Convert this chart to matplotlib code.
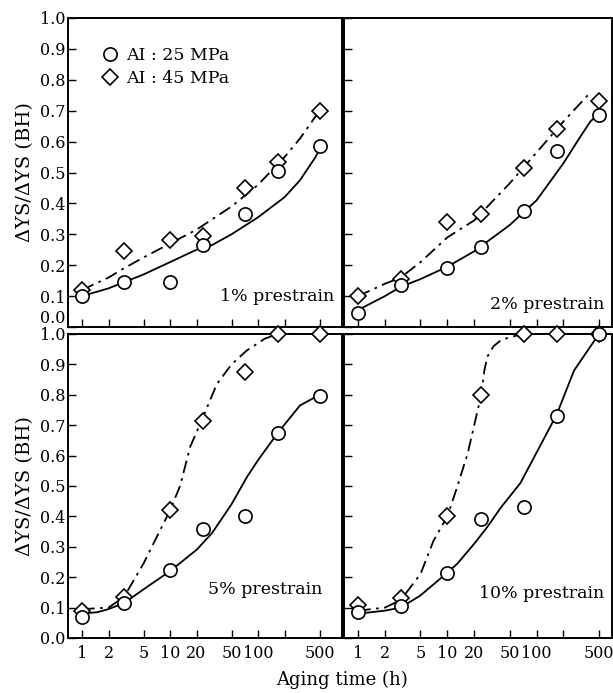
import matplotlib
matplotlib.use("Agg")
import matplotlib.pyplot as plt
from matplotlib.lines import Line2D
from matplotlib.ticker import NullLocator, FixedLocator, FixedFormatter

plt.rcParams['font.family'] = ['DejaVu Serif']
plt.rcParams['mathtext.fontset'] = 'dejavuserif'

# ---------------- data ----------------
aging_time = [1, 3, 10, 24, 72, 168, 500]

ai25_1 = [0.10, 0.145, 0.145, 0.265, 0.365, 0.505, 0.585]
ai45_1 = [0.12, 0.245, 0.28, 0.295, 0.45, 0.535, 0.70]
ai25_2 = [0.045, 0.135, 0.19, 0.26, 0.375, 0.57, 0.685]
ai45_2 = [0.10, 0.155, 0.34, 0.365, 0.515, 0.64, 0.73]
ai25_5 = [0.07, 0.115, 0.225, 0.36, 0.40, 0.675, 0.795]
ai45_5 = [0.09, 0.135, 0.42, 0.715, 0.875, 1.0, 1.0]
ai25_10 = [0.085, 0.105, 0.215, 0.39, 0.43, 0.73, 1.0]
ai45_10 = [0.11, 0.13, 0.40, 0.80, 1.0, 1.0, 1.0]

# hand-drawn trend curves
fit25_1_x = [1, 2, 3, 5, 10, 20, 30, 50, 100, 200, 300, 450, 500]
fit25_1_y = [0.10, 0.125, 0.145, 0.17, 0.21, 0.25, 0.265, 0.30, 0.355, 0.42, 0.475, 0.55, 0.575]
fit45_1_x = [1, 2, 3, 5, 10, 20, 50, 100, 200, 300, 500]
fit45_1_y = [0.12, 0.16, 0.19, 0.225, 0.27, 0.315, 0.39, 0.46, 0.55, 0.61, 0.70]

fit25_2_x = [1, 2, 3, 5, 10, 20, 50, 100, 200, 300, 400, 500]
fit25_2_y = [0.055, 0.10, 0.13, 0.155, 0.195, 0.245, 0.33, 0.41, 0.53, 0.61, 0.665, 0.69]
fit45_2_x = [1, 2, 3, 5, 10, 20, 50, 100, 200, 375]
fit45_2_y = [0.10, 0.14, 0.16, 0.21, 0.29, 0.345, 0.465, 0.565, 0.665, 0.75]

fit25_5_x = [1, 1.5, 2, 3, 5, 10, 20, 30, 50, 75, 100, 168, 300, 500]
fit25_5_y = [0.08, 0.085, 0.095, 0.115, 0.16, 0.22, 0.29, 0.345, 0.44, 0.53, 0.585, 0.675, 0.765, 0.80]
fit45_5_x = [1, 2, 3, 5, 7, 10, 13, 17, 24, 34, 50, 74, 120, 168, 500]
fit45_5_y = [0.095, 0.10, 0.135, 0.245, 0.33, 0.42, 0.50, 0.63, 0.73, 0.835, 0.90, 0.945, 0.985, 1.0, 1.0]

fit25_10_x = [1, 2, 3, 5, 10, 13, 20, 28, 40, 66, 100, 168, 263, 500]
fit25_10_y = [0.08, 0.09, 0.10, 0.14, 0.215, 0.245, 0.31, 0.365, 0.43, 0.51, 0.61, 0.735, 0.88, 1.0]
fit45_10_x = [1, 2, 3, 5, 7, 10, 13, 17, 20, 24, 26, 28, 33, 40, 51, 72, 500]
fit45_10_y = [0.09, 0.10, 0.125, 0.21, 0.32, 0.40, 0.50, 0.61, 0.70, 0.80, 0.88, 0.925, 0.96, 0.98, 0.99, 1.0, 1.0]

panel_labels = ["1% prestrain", "2% prestrain", "5% prestrain", "10% prestrain"]
legend_labels = ["AI : 25 MPa", "AI : 45 MPa"]
x_ticks = [1, 2, 5, 10, 20, 50, 100, 200, 500]
x_ticklabels = ["1", "2", "5", "10", "20", "50", "100", "", "500"]
y_ticks = [0.0, 0.1, 0.2, 0.3, 0.4, 0.5, 0.6, 0.7, 0.8, 0.9, 1.0]
y_ticklabels = ["0.0", "0.1", "0.2", "0.3", "0.4", "0.5", "0.6", "0.7", "0.8", "0.9", "1.0"]
ylabel = "ΔYS/ΔYS (BH)"
xlabel = "Aging time (h)"

panels = [
    (ai25_1, ai45_1, fit25_1_x, fit25_1_y, fit45_1_x, fit45_1_y),
    (ai25_2, ai45_2, fit25_2_x, fit25_2_y, fit45_2_x, fit45_2_y),
    (ai25_5, ai45_5, fit25_5_x, fit25_5_y, fit45_5_x, fit45_5_y),
    (ai25_10, ai45_10, fit25_10_x, fit25_10_y, fit45_10_x, fit45_10_y),
]

# ---------------- layout ----------------
W, H = 613, 693
fig = plt.figure(figsize=(W / 100, H / 100), dpi=100)

def rect(x0, y0, x1, y1):
    return [x0 / W, 1 - y1 / H, (x1 - x0) / W, (y1 - y0) / H]

rects = [rect(68, 18, 342, 327), rect(344, 18, 612, 327),
         rect(68, 334, 342, 638), rect(344, 334, 612, 638)]
xlims = [(0.693, 900), (0.695, 700), (0.693, 900), (0.695, 700)]
label_pos = [(0.97, 0.07), (0.97, 0.045), (0.93, 0.13), (0.97, 0.12)]

axes = []
for i, (r, p) in enumerate(zip(rects, panels)):
    ax = fig.add_axes(r)
    axes.append(ax)
    c25, c45, fx25, fy25, fx45, fy45 = p
    ax.set_xscale('log')
    ax.set_xlim(*xlims[i])
    ax.set_ylim(0, 1.0)
    ax.plot(fx25, fy25, color='black', lw=1.3, clip_on=False, zorder=2)
    ax.plot(fx45, fy45, color='black', lw=1.3, dashes=(7, 3, 1.5, 3), clip_on=False, zorder=2)
    ax.plot(aging_time, c25, 'o', ms=9.5, mfc='white', mec='black', mew=1.2,
            clip_on=False, zorder=4)
    ax.plot(aging_time, c45, 'D', ms=8, mfc='white', mec='black', mew=1.2,
            clip_on=False, zorder=3)
    ax.xaxis.set_major_locator(FixedLocator(x_ticks))
    ax.xaxis.set_minor_locator(NullLocator())
    ax.yaxis.set_major_locator(FixedLocator(y_ticks))
    ax.yaxis.set_minor_locator(NullLocator())
    ax.tick_params(direction='in', length=6, width=1.0, labelsize=11.5, pad=5)
    ax.tick_params(axis='y', pad=2)
    if i >= 2:
        ax.xaxis.set_major_formatter(FixedFormatter(x_ticklabels))
    else:
        ax.set_xticklabels([])
    if i % 2 == 0:
        ax.yaxis.set_major_formatter(FixedFormatter(y_ticklabels))
        ax.set_ylabel(ylabel, fontsize=14, labelpad=4)
    else:
        ax.set_yticklabels([])
    for s in ax.spines.values():
        s.set_linewidth(1.4)
    ax.text(label_pos[i][0], label_pos[i][1], panel_labels[i], transform=ax.transAxes,
            ha='right', va='bottom', fontsize=12.5)

# lift the top panel's 0.0 label above the axis line, as in the original
fig.canvas.draw()
axes[0].yaxis.get_major_ticks()[0].label1.set_verticalalignment('bottom')

handles = [Line2D([], [], ls='none', marker='o', ms=9.5, mfc='white', mec='black', mew=1.2),
           Line2D([], [], ls='none', marker='D', ms=8, mfc='white', mec='black', mew=1.2)]
axes[0].legend(handles, legend_labels, loc='upper left', bbox_to_anchor=(0.122, 0.905),
               frameon=False, fontsize=12.5, handlelength=1.0, handletextpad=0.4,
               labelspacing=0.35, borderaxespad=0, borderpad=0)

fig.text(342 / W, 1 - 680 / H, xlabel, ha='center', va='center', fontsize=13)

fig.savefig("out.png", dpi=100)
